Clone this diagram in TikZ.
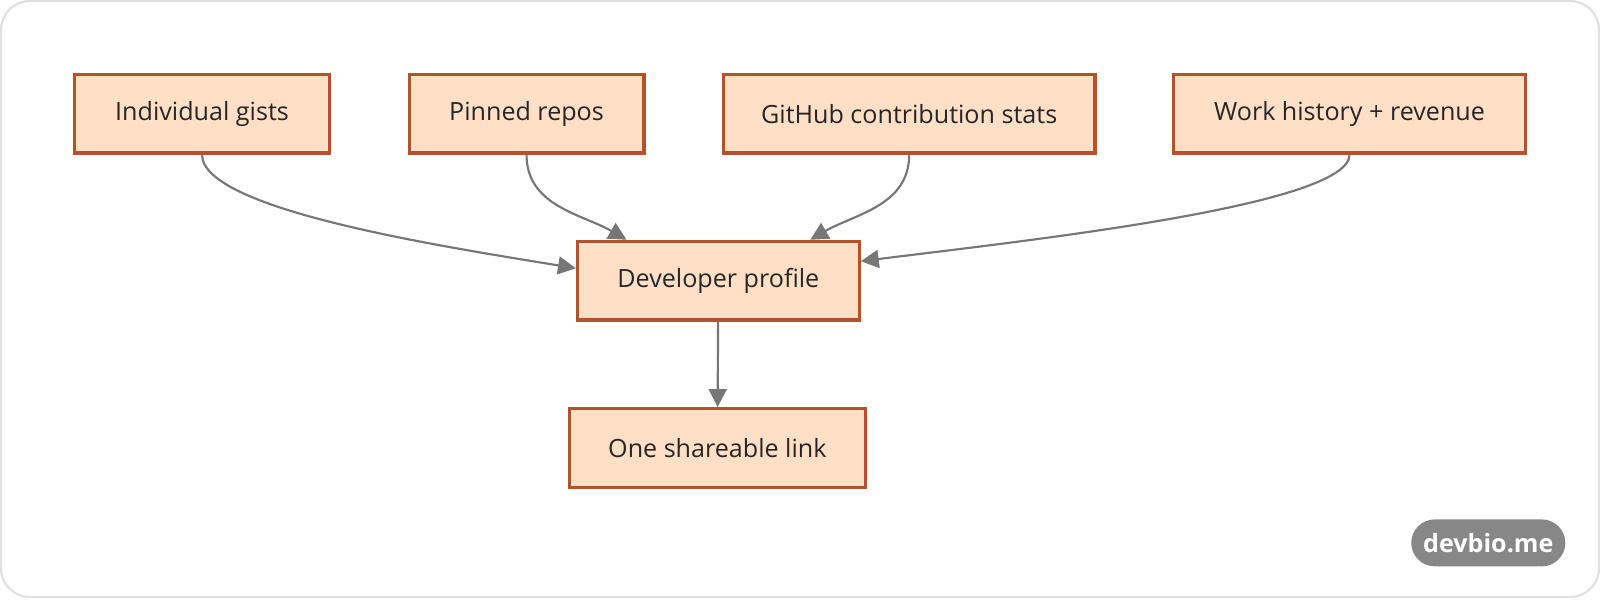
\documentclass[tikz,border=0pt]{standalone}
\usepackage{fontspec}
\setmainfont{Open Sans}
\usetikzlibrary{arrows.meta,positioning}
\definecolor{boxfill}{HTML}{FFDFC6}
\definecolor{boxline}{HTML}{B5522E}
\definecolor{edgegray}{HTML}{777777}
\tikzset{
  box/.style={draw=boxline, fill=boxfill, line width=0.9pt, minimum height=0.77cm,
    inner sep=0pt, font=\fontsize{7}{8.5}\selectfont, text=black!85},
  link/.style={draw=edgegray, line width=0.6pt, -{Triangle[length=5pt,width=5pt]}}
}
\begin{document}
\begin{tikzpicture}
      \useasboundingbox (0,0) rectangle (15.68,-5.88);
      \draw[black!12, line width=0.6pt, rounded corners=8pt] (0.01,-0.01) rectangle (15.67,-5.85);

      \node[box, minimum width=2.50cm] (gists) at (1.98,-1.115) {Individual gists};
      \node[box, minimum width=2.30cm] (pinned) at (5.16,-1.115) {Pinned repos};
      \node[box, minimum width=3.64cm] (stats) at (8.91,-1.115) {GitHub contribution stats};
      \node[box, minimum width=3.45cm] (work) at (13.225,-1.115) {Work history + revenue};
      \node[box, minimum width=2.76cm] (profile) at (7.04,-2.75) {Developer profile};
      \node[box, minimum width=2.90cm] (share) at (7.03,-4.39) {One shareable link};

      \node[fill=black!47, text=white, rounded corners=0.23cm, minimum width=1.51cm,
        minimum height=0.46cm, inner sep=0pt, font=\fontsize{7}{8.5}\selectfont\bfseries] (brand) at (14.585,-5.32) {devbio.me};

      \draw[link] (gists.south) .. controls +(0,-0.55) and +(-1.2,0.2) .. ([yshift=0.12cm]profile.west);
      \draw[link] (pinned.south) to[out=-90,in=150] ([xshift=-0.9cm]profile.north);
      \draw[link] (stats.south) to[out=-90,in=30] ([xshift=0.9cm]profile.north);
      \draw[link] (work.south) .. controls +(0,-0.5) and +(1.6,0.2) .. ([yshift=0.19cm]profile.east);
      \draw[link] (profile) -- (share);
\end{tikzpicture}
\end{document}
